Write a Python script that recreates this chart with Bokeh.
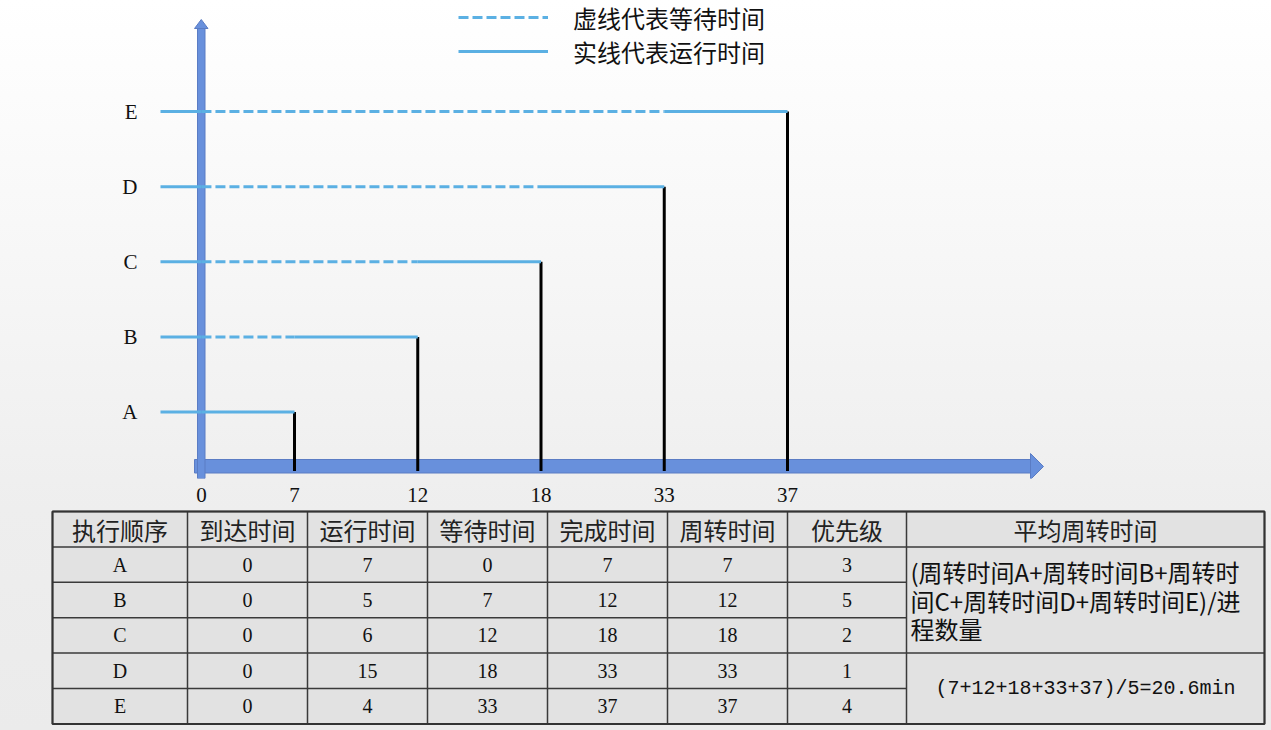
import numpy as np
from bokeh.plotting import figure
from bokeh.layouts import column
from bokeh.models import Range1d, FixedTicker, Legend, LegendItem, ColumnDataSource
from bokeh.core.properties import value
from bokeh.embed import file_html
from bokeh.resources import INLINE

# ---------------- data ----------------
processes = ["A", "B", "C", "D", "E"]
arrival = [0, 0, 0, 0, 0]
run_time = [7, 5, 6, 15, 4]
wait_time = [0, 7, 12, 18, 33]
finish_time = [7, 12, 18, 33, 37]
turnaround = [7, 12, 18, 33, 37]
priority = [3, 5, 2, 1, 4]
time_ticks = [0, 7, 12, 18, 33, 37]
headers = ["执行顺序", "到达时间", "运行时间", "等待时间", "完成时间", "周转时间", "优先级", "平均周转时间"]
formula_lines = ["(周转时间A+周转时间B+周转时", "间C+周转时间D+周转时间E)/进", "程数量"]
avg_text = "(7+12+18+33+37)/5=20.6min"
legend_labels = ["虚线代表等待时间", "实线代表运行时间"]

# ---------------- layout constants ----------------
W, H_TOP, H_TAB = 1271, 508, 222
FRAME_L, FRAME_B = 150, 30
FRAME_W, FRAME_H = W - FRAME_L, H_TOP - FRAME_B
X_UNIT = 123.25          # px per schematic time slot
X_REF_PX = 294           # page px of slot 1
ZERO_SLOT = 0.245        # the origin sits closer to the first tick
Y_UNIT = 75.1
Y0_PX = 411.5

x_start = 1 + (FRAME_L - X_REF_PX) / X_UNIT
x_end = x_start + FRAME_W / X_UNIT
y_end = Y0_PX / Y_UNIT
y_start = (Y0_PX - FRAME_H) / Y_UNIT


def px2x(px):
    return x_start + (px - FRAME_L) / X_UNIT


def px2y(py):
    return (Y0_PX - py) / Y_UNIT


def slot(t):
    i = time_ticks.index(t)
    return ZERO_SLOT if i == 0 else float(i)


AXIS_BLUE = "#6890dc"
AXIS_EDGE = "#5a7cc4"
LINE_BLUE = "#5bb0e3"
SERIF = "Liberation Serif"
CJK = "Noto Sans CJK SC"

# ---------------- top chart ----------------
p = figure(width=W, height=H_TOP, x_range=Range1d(x_start, x_end), y_range=Range1d(y_start, y_end),
           output_backend="svg", toolbar_location=None, title=None,
           min_border_left=FRAME_L, min_border_right=0, min_border_top=0, min_border_bottom=FRAME_B)
p.frame_align = False
p.background_fill_alpha = 0
p.border_fill_alpha = 0
p.outline_line_color = None
p.grid.visible = False
p.styles = {"background": "linear-gradient(180deg, #ffffff 0%, #f7f7f7 50%, #eeeeee 100%)"}

# axes (labels only)
p.xaxis.ticker = FixedTicker(ticks=[slot(t) for t in time_ticks])
p.xaxis.major_label_overrides = {slot(t): str(t) for t in time_ticks}
p.yaxis.ticker = FixedTicker(ticks=list(range(len(processes))))
p.yaxis.major_label_overrides = {i: name for i, name in enumerate(processes)}
for ax in (p.xaxis, p.yaxis):
    ax.axis_line_color = None
    ax.major_tick_line_color = None
    ax.minor_tick_line_color = None
    ax.major_label_text_font = SERIF
    ax.major_label_text_font_size = "21px"
    ax.major_label_text_color = "#111111"
p.xaxis.major_label_standoff = 3
p.yaxis.major_label_standoff = 7

# horizontal axis arrow
p.quad(left=px2x(194), right=px2x(1031), top=px2y(459), bottom=px2y(472.5),
       fill_color=AXIS_BLUE, line_color=AXIS_EDGE, line_width=1)
p.patch(x=[px2x(1030), px2x(1043), px2x(1030)], y=[px2y(453), px2y(466), px2y(479)],
        fill_color=AXIS_BLUE, line_color=AXIS_EDGE, line_width=1)

# process lines
y_idx = list(range(len(processes)))
stub_src = ColumnDataSource(dict(x0=[px2x(160)] * len(processes),
                                 x1=[slot(a) for a in arrival], y=y_idx))
wait_rows = [i for i in y_idx if wait_time[i] > 0]
wait_src = ColumnDataSource(dict(x0=[slot(arrival[i]) for i in wait_rows],
                                 x1=[slot(arrival[i] + wait_time[i]) for i in wait_rows],
                                 y=wait_rows))
run_src = ColumnDataSource(dict(x0=[slot(arrival[i] + wait_time[i]) for i in y_idx],
                                x1=[slot(finish_time[i]) for i in y_idx], y=y_idx))
fin_src = ColumnDataSource(dict(x=[slot(f) for f in finish_time], y=y_idx))

# vertical axis arrow (drawn over horizontal axis)
p.quad(left=px2x(197), right=px2x(204.5), top=px2y(27), bottom=px2y(478),
       fill_color=AXIS_BLUE, line_color=AXIS_EDGE, line_width=1)
p.patch(x=[px2x(194), px2x(200.75), px2x(207.5)], y=[px2y(28), px2y(19), px2y(28)],
        fill_color=AXIS_BLUE, line_color=AXIS_EDGE, line_width=1)

# completion markers
p.segment(x0="x", y0="y", x1="x", y1=px2y(470.5), source=fin_src, line_color="#000000", line_width=3)

p.segment(x0="x0", y0="y", x1="x1", y1="y", source=stub_src, line_color=LINE_BLUE, line_width=3)
r_wait = p.segment(x0="x0", y0="y", x1="x1", y1="y", source=wait_src, line_color=LINE_BLUE,
                   line_width=3, line_dash="10 4")
r_run = p.segment(x0="x0", y0="y", x1="x1", y1="y", source=run_src, line_color=LINE_BLUE, line_width=3)

# two single-item legends so each can sit at its own height
ITEM_H = 35
for label, rend, center_y in [(legend_labels[0], r_wait, 17), (legend_labels[1], r_run, 51)]:
    lg = Legend(items=[LegendItem(label=label, renderers=[rend])],
                location=(458 - FRAME_L, FRAME_H - (center_y + ITEM_H / 2)))
    lg.glyph_width = 90
    lg.glyph_height = 30
    lg.label_height = 30
    lg.spacing = 0
    lg.padding = 0
    lg.margin = 0
    lg.label_standoff = 25
    lg.label_text_font = CJK
    lg.label_text_font_size = "24px"
    lg.label_text_color = "#111111"
    lg.border_line_alpha = 0
    lg.background_fill_alpha = 0
    p.add_layout(lg)

# ---------------- table ----------------
TAB_LEFT, TAB_TOP, ROW_H = 52, 3, 35.4
col_widths = [135, 120, 120, 120, 120, 120, 119, 358]
edges = list(np.cumsum([TAB_LEFT] + col_widths).astype(float))
centers = [(edges[i] + edges[i + 1]) / 2 for i in range(len(col_widths))]
n_rows = len(processes) + 1

t = figure(width=W, height=H_TAB, x_range=Range1d(0, W),
           y_range=Range1d((H_TAB - TAB_TOP) / ROW_H, -TAB_TOP / ROW_H),
           output_backend="svg", toolbar_location=None, title=None,
           x_axis_location=None, y_axis_location=None, min_border=0)
t.frame_align = False
t.background_fill_alpha = 0
t.border_fill_alpha = 0
t.outline_line_color = None
t.grid.visible = False
t.styles = {"background": "linear-gradient(180deg, #eeeeee 0%, #ebebeb 100%)"}

t.quad(left=edges[0], right=edges[-1], top=0, bottom=n_rows, fill_color="#e2e2e2", line_color=None)

# grid lines
hx0, hx1, hy = [], [], []
for r in range(n_rows + 1):
    full = r in (0, 1, 4, n_rows)
    hx0.append(edges[0])
    hx1.append(edges[-1] if full else edges[-2])
    hy.append(r)
t.segment(x0=hx0, y0=hy, x1=hx1, y1=hy, line_color="#3a3a3a", line_width=1.5)
t.segment(x0=edges, y0=[0] * len(edges), x1=edges, y1=[n_rows] * len(edges),
          line_color="#3a3a3a", line_width=1.5)
t.quad(left=edges[0], right=edges[-1], top=0, bottom=n_rows, fill_alpha=0,
       line_color="#333333", line_width=2)

# header
t.text(x=centers, y=[0.5] * len(headers), text=headers, text_font=value(CJK),
       text_font_size="24px", text_align="center", text_baseline="middle", text_color="#222222")

# body
body_cols = [processes, arrival, run_time, wait_time, finish_time, turnaround, priority]
bx, by, bt = [], [], []
for c, vals in enumerate(body_cols):
    for r, v in enumerate(vals):
        bx.append(centers[c])
        by.append(r + 1.5)
        bt.append(str(v))
t.text(x=bx, y=by, text=bt, text_font=value(SERIF), text_font_size="20px",
       text_align="center", text_baseline="middle", text_color="#111111")

# merged cells
line_step = 28.5 / ROW_H
fy = [2.5 + (k - 1) * line_step for k in range(len(formula_lines))]
t.text(x=[edges[-2] + 4] * len(formula_lines), y=fy, text=formula_lines, text_font=value(CJK),
       text_font_size="24px", text_align="left", text_baseline="middle", text_color="#111111")
t.text(x=[centers[-1]], y=[5.0], text=[avg_text], text_font=value("Liberation Mono"),
       text_font_size="20px", text_align="center", text_baseline="middle", text_color="#111111")

layout = column(p, t, spacing=0)
open("out.html", "w").write(file_html(layout, INLINE))
